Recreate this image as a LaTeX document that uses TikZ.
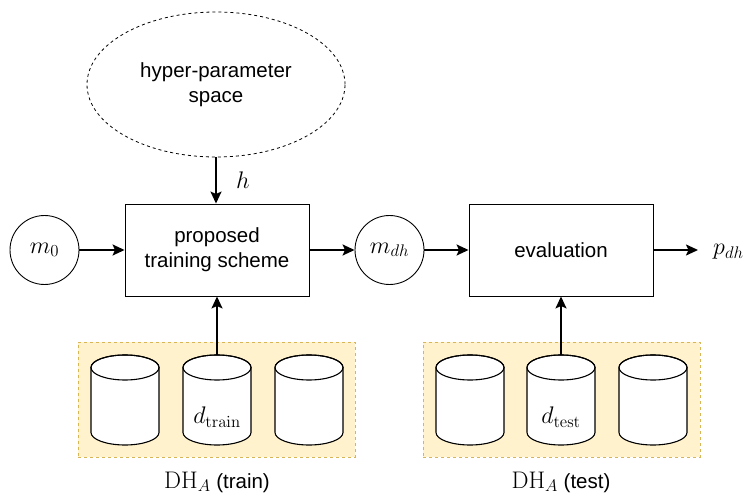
\RequirePackage{fix-cm}
\documentclass[tikz,border=0pt]{standalone}
\usepackage[no-math]{fontspec}
\setmainfont{Liberation Sans}
\usetikzlibrary{arrows.meta,shapes.geometric}
\definecolor{yfill}{HTML}{FFF2CC}
\definecolor{yline}{HTML}{D6B656}
\begin{document}
\begin{tikzpicture}[x=1pt,y=1pt,
  txt/.style={font=\fontsize{20.5}{25}\selectfont, align=center},
  mth/.style={font=\fontsize{24}{28}\selectfont, inner sep=0pt},
  box/.style={draw, line width=0.9pt, minimum width=184pt, minimum height=92pt, inner sep=0pt, txt},
  circ/.style={draw, circle, line width=0.9pt, minimum size=69pt, inner sep=0pt, mth},
  arr/.style={line width=1.8pt, -{Stealth[length=12pt,width=11pt,inset=2.5pt]}},
  region/.style={draw=yline, fill=yfill, dashed, dash pattern=on 3pt off 3pt, line width=0.8pt, inner sep=0pt},
  cyl/.style={draw, line width=1.1pt, fill=white},
  dbcyl/.pic={
    \draw[cyl] (-34,-12.5) -- (-34,-77.5)
      arc[start angle=180,end angle=360,x radius=34pt,y radius=12.5pt]
      -- (34,-12.5)
      arc[start angle=0,end angle=180,x radius=34pt,y radius=12.5pt] -- cycle;
    \draw[line width=1.1pt] (0,-12.5) ellipse[x radius=34pt,y radius=12.5pt];
  }
]
\useasboundingbox (0,0) rectangle (750,-497);

% hyper-parameter space
\node[draw, ellipse, dash pattern=on 3pt off 3pt, line width=0.8pt,
      minimum width=258pt, minimum height=145pt, inner sep=0pt, txt] (hp) at (216,-84.5) {hyper-parameter\\space};

% main boxes and circles
\node[box] (b1) at (217,-250) {proposed\\training scheme};
\node[box] (b2) at (561,-250) {evaluation};
\node[circ] (m0) at (44.5,-250) {$m_0$};
\node[circ] (mdh) at (389.5,-250) {$m_{dh}$};
\node[mth] (h) at (243,-180) {$h$};
\node[mth, anchor=west] (p) at (713,-252) {$p_{dh}$};
\coordinate (pend) at (698,-250);

% data regions
\node[region, minimum width=277pt, minimum height=115pt] (r1) at (216.5,-399.5) {};
\node[region, minimum width=277pt, minimum height=115pt] (r2) at (561.5,-399.5) {};

\pic at (125,-355) {dbcyl};
\pic at (217,-355) {dbcyl};
\pic at (309,-355) {dbcyl};
\pic at (470,-355) {dbcyl};
\pic at (561,-355) {dbcyl};
\pic at (653,-355) {dbcyl};
\coordinate (t1) at (217,-355);
\coordinate (t2) at (561,-355);

\node[mth] (dtr) at (217,-417) {$d_{\mathrm{train}}$};
\node[mth] (dte) at (561,-417) {$d_{\mathrm{test}}$};
\node[inner sep=0pt] (l1) at (217,-482) {\fontsize{24}{28}\selectfont$\mathrm{DH}_A$\fontsize{20.5}{25}\selectfont\ (train)};
\node[inner sep=0pt] (l2) at (561,-482) {\fontsize{24}{28}\selectfont$\mathrm{DH}_A$\fontsize{20.5}{25}\selectfont\ (test)};

% connectors
\draw[arr] (hp.south) -- (hp.south |- b1.north);
\draw[arr] (m0) -- (b1);
\draw[arr] (b1) -- (mdh);
\draw[arr] (mdh) -- (b2);
\draw[arr] (b2) -- (pend);
\draw[arr] (t1) -- (b1.south);
\draw[arr] (t2) -- (b2.south);
\end{tikzpicture}
\end{document}
